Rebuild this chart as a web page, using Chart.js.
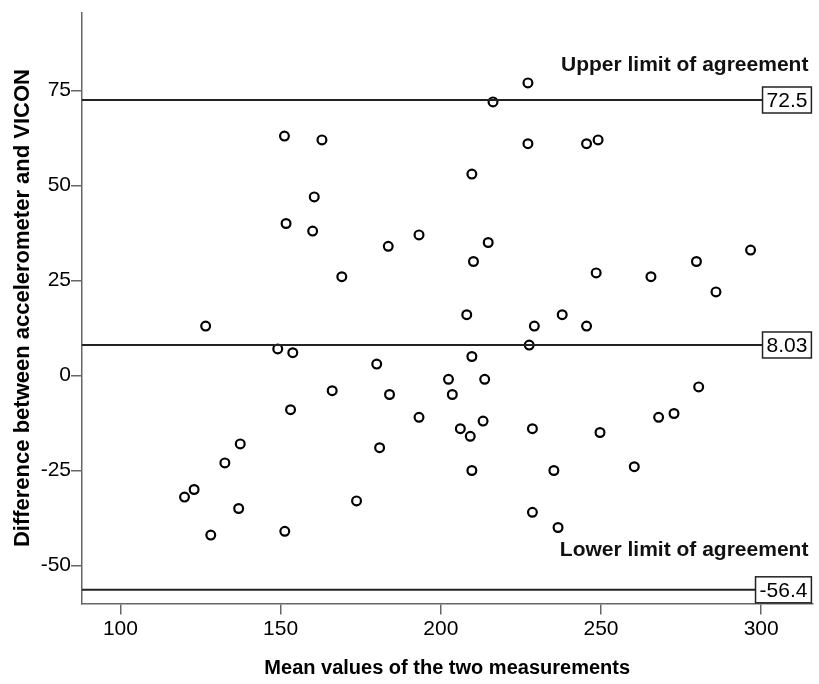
<!DOCTYPE html>
<html><head><meta charset="utf-8">
<script src="https://cdn.jsdelivr.net/npm/chart.js@4.4.1/dist/chart.umd.min.js"></script>
<style>html,body{margin:0;padding:0;background:#fff}</style>
</head><body>
<canvas id="c" width="819" height="684"></canvas>
<script>
const meanValues = [151.2,162.9,160.5,151.7,160.0,169.1,227.2,216.3,227.2,245.5,249.1,209.7,183.6,193.2,214.8,210.2,248.5,265.6,279.8,296.7,285.9,126.6,149.1,153.8,166.1,153.1,137.4,132.6,123.0,120.0,136.9,128.2,151.3,173.7,208.1,229.2,237.9,245.5,227.6,209.7,180.0,202.4,213.7,184.0,203.6,193.2,213.2,206.1,209.2,228.6,249.7,180.9,209.7,235.3,228.6,236.6,280.5,268.0,272.8,260.4];
const differences = [63,62,47,40,38,26,77,72,61,61,62,53,34,37,35,30,27,26,30,33,22,13,7,6,-4,-9,-18,-23,-30,-32,-35,-42,-41,-33,16,13,16,13,8,5,3,-1,-1,-5,-5,-11,-12,-14,-16,-14,-15,-19,-25,-25,-36,-40,-3,-11,-10,-24];
const xTicks = [100,150,200,250,300];
const yTicks = [-50,-25,0,25,50,75];
const limitValues = [72.5, 8.03, -56.4];
const limitLabels = ['72.5','8.03','-56.4'];
const limitNames = ['Upper limit of agreement','','Lower limit of agreement'];
const xTitle = 'Mean values of the two measurements';
const yTitle = 'Difference between accelerometer and VICON';

const fam = '"Liberation Sans", Arial, sans-serif';
Chart.defaults.font.family = fam;

const limitPlugin = {
  id: 'limits',
  afterDatasetsDraw(chart) {
    const {ctx, chartArea: a, scales: {y}} = chart;
    ctx.save();
    limitValues.forEach((v, i) => {
      const py = y.getPixelForValue(v);
      ctx.font = '21px ' + fam;
      const label = limitLabels[i];
      const tw = ctx.measureText(label).width;
      const bw = tw + 8, bh = 26;
      const bx = a.right - 1 - bw;
      ctx.strokeStyle = '#222'; ctx.lineWidth = 2;
      ctx.beginPath(); ctx.moveTo(a.left, py); ctx.lineTo(bx, py); ctx.stroke();
      ctx.fillStyle = '#fff'; ctx.fillRect(bx, py - bh/2, bw, bh);
      ctx.lineWidth = 1.5; ctx.strokeRect(bx, py - bh/2, bw, bh);
      ctx.fillStyle = '#000'; ctx.textAlign = 'center'; ctx.textBaseline = 'middle';
      ctx.fillText(label, bx + bw/2, py + 1);
      if (limitNames[i]) {
        ctx.font = 'bold 21px ' + fam;
        ctx.textAlign = 'right';
        ctx.fillStyle = '#111';
        ctx.fillText(limitNames[i], a.right - 4, py - (i === 0 ? 35 : 40));
      }
    });
    ctx.restore();
  }
};

new Chart(document.getElementById('c'), {
  type: 'scatter',
  data: {
    datasets: [{
      data: meanValues.map((m, i) => ({x: m, y: differences[i]})),
      pointStyle: 'circle',
      pointRadius: 4.4,
      pointBorderWidth: 2.2,
      pointBorderColor: '#000',
      pointBackgroundColor: 'rgba(0,0,0,0)',
      pointHoverRadius: 4.4
    }]
  },
  options: {
    responsive: false,
    animation: false,
    devicePixelRatio: 1,
    layout: {padding: {top: 10, right: 3, left: 0, bottom: 0}},
    plugins: {legend: {display: false}, tooltip: {enabled: false}},
    scales: {
      x: {
        type: 'linear', min: 88, max: 316,
        afterBuildTicks: s => { s.ticks = xTicks.map(v => ({value: v})); },
        afterFit: s => { s.height = 80.5; },
        grid: {drawOnChartArea: false, drawTicks: true, tickLength: 11, color: '#666', lineWidth: 1.5},
        border: {display: true, color: '#666', width: 1.5},
        ticks: {padding: 2, color: '#000', font: {size: 21}, maxRotation: 0},
        title: {display: true, text: xTitle, color: '#000', font: {size: 20, weight: 'bold'}, padding: {top: 0, bottom: 4}}
      },
      y: {
        type: 'linear', min: -60, max: 95.5,
        afterBuildTicks: s => { s.ticks = yTicks.map(v => ({value: v})); },
        afterFit: s => { s.width = 82; },
        grid: {drawOnChartArea: false, drawTicks: true, tickLength: 11, color: '#666', lineWidth: 1.5},
        border: {display: true, color: '#666', width: 1.5},
        ticks: {padding: 0, color: '#000', font: {size: 21}},
        title: {display: true, text: yTitle, color: '#000', font: {size: 22, weight: 'bold'}, padding: {top: 10, bottom: 0}}
      }
    }
  },
  plugins: [limitPlugin]
});
</script>
</body></html>
